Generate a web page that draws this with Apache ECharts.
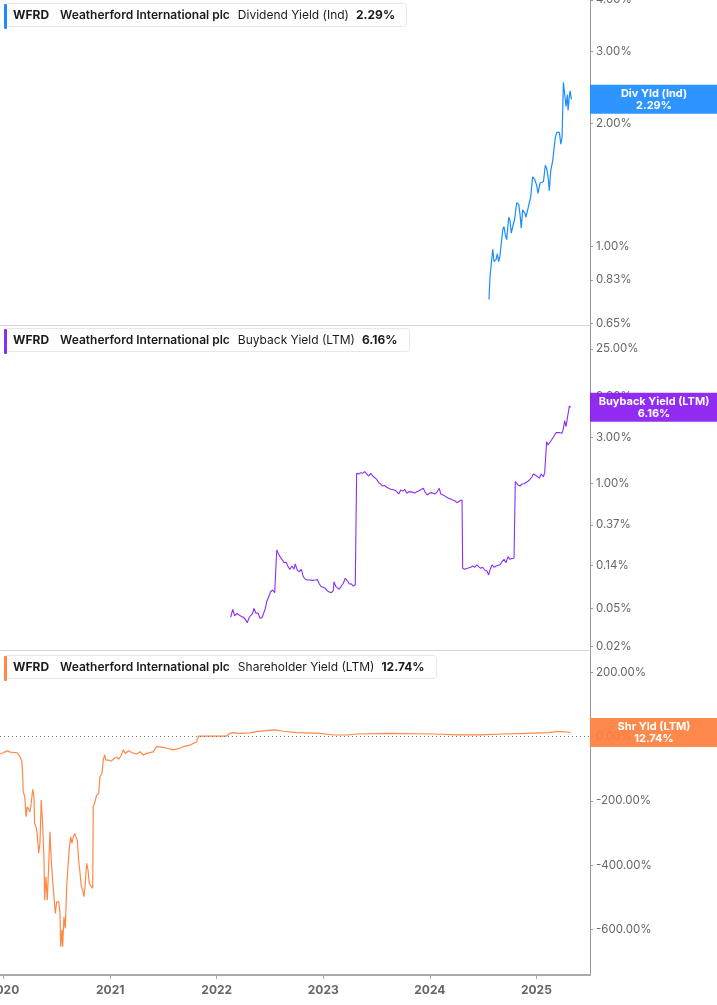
<!DOCTYPE html>
<html>
<head>
<meta charset="utf-8">
<title>WFRD yields</title>
<script src="https://cdn.jsdelivr.net/npm/echarts@6.0.0/dist/echarts.min.js"></script>
<style>
  html, body { margin: 0; padding: 0; background: #fff; }
  #chart { width: 717px; height: 1005px; }
</style>
</head>
<body>
<div id="chart"></div>
<script>
// x positions are decimal years
const yearTicks = [2020, 2021, 2022, 2023, 2024, 2025]

// Dividend Yield (Ind), %
const divYears = [
  2024.555, 2024.565, 2024.577, 2024.590, 2024.602, 2024.621, 2024.633, 2024.646, 2024.658, 2024.684,
  2024.696, 2024.708, 2024.721, 2024.740, 2024.752, 2024.764, 2024.777, 2024.796, 2024.815, 2024.834,
  2024.846, 2024.858, 2024.871, 2024.890, 2024.902, 2024.915, 2024.933, 2024.946, 2024.965, 2024.984,
  2025.003, 2025.015, 2025.034, 2025.047, 2025.066, 2025.084, 2025.097, 2025.110, 2025.121, 2025.134,
  2025.153, 2025.165, 2025.178, 2025.191, 2025.203, 2025.216, 2025.229, 2025.241, 2025.253, 2025.266,
  2025.278, 2025.291, 2025.297, 2025.309, 2025.316, 2025.329
]
const divValues = [
  0.743, 0.847, 0.855, 0.985, 0.92, 0.93, 0.96, 0.92, 0.95, 1.10,
  1.12, 1.07, 1.04, 1.18, 1.16, 1.08, 1.09, 1.17, 1.28, 1.27,
  1.20, 1.11, 1.23, 1.21, 1.18, 1.22, 1.28, 1.32, 1.48, 1.46,
  1.41, 1.35, 1.43, 1.42, 1.44, 1.58, 1.55, 1.48, 1.37, 1.53,
  1.62, 1.73, 1.85, 1.90, 1.88, 1.90, 1.78, 1.85, 2.52, 2.54,
  2.20, 2.35, 2.15, 2.32, 2.40, 2.29
]
const divTicks = [0.65, 0.83, 1.00, 2.00, 3.00, 4.00]

// Buyback Yield (LTM), %
const buyYears = [
  2022.131, 2022.150, 2022.168, 2022.187, 2022.206, 2022.225, 2022.249, 2022.268, 2022.287, 2022.305,
  2022.321, 2022.337, 2022.349, 2022.368, 2022.387, 2022.406, 2022.425, 2022.437, 2022.456, 2022.469,
  2022.488, 2022.506, 2022.525, 2022.544, 2022.556, 2022.563, 2022.575, 2022.594, 2022.612, 2022.631,
  2022.650, 2022.669, 2022.687, 2022.706, 2022.725, 2022.737, 2022.756, 2022.775, 2022.794, 2022.812,
  2022.831, 2022.850, 2022.875, 2022.900, 2022.925, 2022.944, 2022.962, 2022.981, 2023.000, 2023.019,
  2023.037, 2023.056, 2023.075, 2023.094, 2023.100, 2023.119, 2023.135, 2023.150, 2023.169, 2023.188,
  2023.206, 2023.225, 2023.244, 2023.263, 2023.281, 2023.300, 2023.313, 2023.332, 2023.351, 2023.370,
  2023.389, 2023.407, 2023.426, 2023.445, 2023.464, 2023.482, 2023.501, 2023.520, 2023.539, 2023.557,
  2023.576, 2023.595, 2023.614, 2023.633, 2023.651, 2023.670, 2023.689, 2023.708, 2023.726, 2023.745,
  2023.764, 2023.783, 2023.802, 2023.820, 2023.839, 2023.858, 2023.877, 2023.896, 2023.914, 2023.939,
  2023.958, 2023.976, 2023.995, 2024.014, 2024.032, 2024.051, 2024.070, 2024.089, 2024.102, 2024.120,
  2024.139, 2024.158, 2024.177, 2024.195, 2024.214, 2024.233, 2024.252, 2024.270, 2024.283, 2024.302,
  2024.308, 2024.327, 2024.346, 2024.364, 2024.383, 2024.402, 2024.421, 2024.440, 2024.458, 2024.477,
  2024.496, 2024.515, 2024.534, 2024.552, 2024.565, 2024.583, 2024.602, 2024.621, 2024.639, 2024.658,
  2024.677, 2024.696, 2024.715, 2024.733, 2024.752, 2024.771, 2024.790, 2024.802, 2024.815, 2024.827,
  2024.846, 2024.865, 2024.884, 2024.902, 2024.921, 2024.940, 2024.959, 2024.971, 2024.990, 2025.008,
  2025.027, 2025.046, 2025.065, 2025.078, 2025.090, 2025.096, 2025.109, 2025.127, 2025.146, 2025.165,
  2025.184, 2025.202, 2025.221, 2025.240, 2025.252, 2025.265, 2025.278, 2025.296, 2025.309, 2025.322
]
const buyValues = [
  0.0405, 0.049, 0.0418, 0.0445, 0.043, 0.0418, 0.0405, 0.0386, 0.0356, 0.0405,
  0.042, 0.0445, 0.050, 0.0445, 0.0448, 0.0395, 0.040, 0.0386, 0.050, 0.0588,
  0.0662, 0.0746, 0.0778, 0.0729, 0.0735, 0.203, 0.190, 0.1726, 0.162, 0.1496,
  0.151, 0.136, 0.1276, 0.138, 0.128, 0.145, 0.125, 0.1205, 0.1276, 0.107,
  0.1005, 0.0989, 0.0989, 0.098, 0.0989, 0.100, 0.0898, 0.0842, 0.083, 0.081,
  0.0765, 0.0741, 0.073, 0.0765, 0.0948, 0.0842, 0.086, 0.079, 0.0855, 0.0914,
  0.1029, 0.097, 0.0898, 0.090, 0.0855, 0.0875, 1.27, 1.25, 1.29, 1.27,
  1.32, 1.27, 1.19, 1.27, 1.19, 1.154, 1.10, 1.014, 0.983, 0.937,
  0.95, 0.909, 0.887, 0.866, 0.87, 0.852, 0.818, 0.774, 0.852, 0.83,
  0.866, 0.787, 0.82, 0.787, 0.81, 0.79, 0.818, 0.83, 0.799, 0.887,
  0.80, 0.756, 0.787, 0.80, 0.838, 0.774, 0.82, 0.887, 0.774, 0.756,
  0.74, 0.715, 0.70, 0.682, 0.67, 0.659, 0.629, 0.62, 0.659, 0.671,
  0.1306, 0.1276, 0.13, 0.1276, 0.134, 0.138, 0.134, 0.1418, 0.137, 0.1306,
  0.134, 0.1256, 0.1235, 0.1114, 0.1256, 0.1418, 0.134, 0.138, 0.136, 0.142,
  0.153, 0.162, 0.1496, 0.1726, 0.162, 0.165, 0.166, 1.04, 1.08, 0.96,
  0.937, 0.983, 0.99, 1.0, 1.05, 1.10, 1.17, 1.25, 1.22, 1.19,
  1.13, 1.25, 1.17, 1.29, 1.32, 2.71, 2.50, 2.60, 2.87, 3.10,
  3.36, 3.25, 3.36, 3.31, 3.64, 4.47, 3.88, 3.82, 6.36, 6.16
]
const buyTicks = [0.02, 0.05, 0.14, 0.37, 1.00, 3.00, 8.00, 25.00]

// Shareholder Yield (LTM), %
const shrYears = [
  2019.966, 2019.997, 2020.034, 2020.060, 2020.091, 2020.128, 2020.153, 2020.172, 2020.179, 2020.184,
  2020.198, 2020.203, 2020.210, 2020.222, 2020.235, 2020.247, 2020.259, 2020.273, 2020.285, 2020.291,
  2020.304, 2020.316, 2020.329, 2020.341, 2020.353, 2020.366, 2020.379, 2020.385, 2020.397, 2020.410,
  2020.423, 2020.435, 2020.447, 2020.460, 2020.473, 2020.485, 2020.498, 2020.517, 2020.529, 2020.535,
  2020.548, 2020.554, 2020.566, 2020.579, 2020.592, 2020.604, 2020.616, 2020.629, 2020.641, 2020.654,
  2020.667, 2020.679, 2020.691, 2020.704, 2020.716, 2020.729, 2020.741, 2020.754, 2020.766, 2020.779,
  2020.792, 2020.804, 2020.817, 2020.836, 2020.841, 2020.854, 2020.873, 2020.892, 2020.904, 2020.923,
  2020.935, 2020.948, 2020.960, 2020.986, 2021.010, 2021.042, 2021.061, 2021.080, 2021.104, 2021.123,
  2021.142, 2021.174, 2021.205, 2021.249, 2021.280, 2021.311, 2021.342, 2021.404, 2021.436, 2021.498,
  2021.530, 2021.592, 2021.655, 2021.686, 2021.749, 2021.812, 2021.831, 2021.874, 2022.093, 2022.124,
  2022.155, 2022.218, 2022.312, 2022.368, 2022.540, 2022.626, 2022.755, 2022.969, 2023.098, 2023.227,
  2023.313, 2023.614, 2024.042, 2024.254, 2024.470, 2024.686, 2024.900, 2025.115, 2025.201, 2025.287,
  2025.321
]
const shrValues = [
  -54, -50, -44, -48, -49, -50, -62, -78, -125, -171,
  -187, -207, -249, -218, -223, -234, -207, -164, -187, -270,
  -280, -306, -363, -332, -197, -270, -384, -509, -436, -509,
  -514, -296, -384, -446, -446, -550, -514, -514, -550, -654,
  -602, -654, -561, -597, -467, -405, -348, -312, -332, -312,
  -301, -312, -322, -384, -421, -467, -477, -498, -457, -394,
  -415, -457, -452, -472, -218, -207, -182, -176, -125, -114,
  -73, -57, -73, -73, -76, -67, -64, -70, -57, -41,
  -52, -44, -50, -54, -47, -57, -52, -47, -31, -33,
  -36, -41, -36, -31, -26, -16, 2, 2, 2, 10.6,
  12.5, 10.6, 12, 15.6, 21, 17, 12.5, 10.6, 5.3, 5.3,
  8.4, 10.6, 8.4, 6, 6, 8.4, 10.6, 12.5, 16.8, 14.6,
  12.74
]
const shrTicks = [-600, -400, -200, 0, 200]

const panels = [
  { metric: 'Dividend Yield (Ind)', tag: ['Div Yld (Ind)', '2.29%'], color: '#1a8cff', box: '#1e8cff' },
  { metric: 'Buyback Yield (LTM)', tag: ['Buyback Yield (LTM)', '6.16%'], color: '#8b2ef5', box: '#8a1cf2' },
  { metric: 'Shareholder Yield (LTM)', tag: ['Shr Yld (LTM)', '12.74%'], color: '#ff8848', box: '#ff7f3f' }
]

const FONT = 'Inter, "Noto Sans", sans-serif'
const GRID_RIGHT = 127
const PANEL_H = 325
const lg = (v) => Math.log10(v)

const pairs = (xs, ys, f) => xs.map((x, i) => [x, f ? f(ys[i]) : ys[i]])

function xAxisFor(i) {
  const last = i === 2
  return {
    gridIndex: i,
    type: 'value',
    min: 2019.966,
    max: 2025.503,
    axisLine: { show: true, onZero: false, lineStyle: { color: last ? '#aaaaaa' : '#d6d6d6', width: last ? 2 : 1 } },
    axisTick: {
      show: last,
      customValues: yearTicks,
      length: 4,
      lineStyle: { color: '#aaaaaa' }
    },
    axisLabel: {
      show: last,
      customValues: yearTicks,
      formatter: (v) => String(v),
      color: '#666',
      fontWeight: 'bold',
      fontSize: 12,
      fontFamily: FONT,
      margin: 9
    },
    splitLine: { show: false }
  }
}

function yAxisFor(i, min, max, ticks, fmt) {
  return {
    gridIndex: i,
    type: 'value',
    position: 'right',
    min: min,
    max: max,
    axisLine: { show: true, onZero: false, lineStyle: { color: '#999' } },
    axisTick: { show: true, customValues: ticks, length: 3, lineStyle: { color: '#999' } },
    axisLabel: {
      customValues: ticks,
      formatter: fmt,
      color: '#666',
      fontSize: 11.5,
      fontFamily: FONT,
      margin: 6
    },
    splitLine: { show: false }
  }
}

const pctLog = (v) => Math.pow(10, v).toFixed(2) + '%'
const pctLin = (v) => v.toFixed(2) + '%'

const titles = panels.map((p, i) => ({
  left: 4,
  top: i * PANEL_H + (i === 2 ? 5 : 3),
  padding: [6, 12, 6, 9],
  backgroundColor: '#fff',
  borderColor: '#e8e8e8',
  borderWidth: 1,
  borderRadius: 3,
  text: '{a|WFRD}{b|Weatherford International plc}{c|' + p.metric + '}{d|' + p.tag[1] + '}',
  textStyle: {
    fontFamily: FONT,
    fontSize: 12,
    color: '#1b1b1b',
    rich: {
      a: { fontFamily: FONT, fontSize: 12, fontWeight: 'bold', color: '#1b1b1b', padding: [0, 11, 0, 0] },
      b: { fontFamily: FONT, fontSize: 12, fontWeight: 600, color: '#1b1b1b', padding: [0, 8, 0, 0] },
      c: { fontFamily: FONT, fontSize: 12, fontWeight: 'normal', color: '#1b1b1b', padding: [0, 7, 0, 0] },
      d: { fontFamily: FONT, fontSize: 12, fontWeight: 'bold', color: '#1b1b1b' }
    }
  }
}))

const chart = echarts.init(document.getElementById('chart'), null, { renderer: 'canvas' })

chart.setOption({
  animation: false,
  backgroundColor: '#fff',
  title: titles,
  grid: [0, 1, 2].map((i) => ({
    left: 0,
    right: GRID_RIGHT,
    top: i * PANEL_H,
    height: PANEL_H,
    containLabel: false,
    outerBoundsMode: 'none'
  })),
  xAxis: [0, 1, 2].map(xAxisFor),
  yAxis: [
    yAxisFor(0, lg(0.644), lg(4.0), divTicks.map(lg), pctLog),
    yAxisFor(1, -1.733, 1.6455, buyTicks.map(lg), pctLog),
    yAxisFor(2, -742, 270, shrTicks, pctLin)
  ],
  series: [
    {
      name: panels[0].metric,
      type: 'line',
      xAxisIndex: 0,
      yAxisIndex: 0,
      showSymbol: false,
      data: pairs(divYears, divValues, lg),
      lineStyle: { color: panels[0].color, width: 1.2 },
      itemStyle: { color: panels[0].color }
    },
    {
      name: panels[1].metric,
      type: 'line',
      xAxisIndex: 1,
      yAxisIndex: 1,
      showSymbol: false,
      data: pairs(buyYears, buyValues, lg),
      lineStyle: { color: panels[1].color, width: 1.1 },
      itemStyle: { color: panels[1].color }
    },
    {
      name: panels[2].metric,
      type: 'line',
      xAxisIndex: 2,
      yAxisIndex: 2,
      showSymbol: false,
      data: pairs(shrYears, shrValues),
      lineStyle: { color: panels[2].color, width: 1.2 },
      itemStyle: { color: panels[2].color },
      markLine: {
        silent: true,
        symbol: 'none',
        label: { show: false },
        lineStyle: { color: '#777', type: [1, 3], width: 1 },
        data: [{ yAxis: 0 }]
      }
    }
  ]
})

// last-value tags on the right axis, placed through the axis scale
const lastVals = [lg(divValues[divValues.length - 1]), lg(buyValues[buyValues.length - 1]), shrValues[shrValues.length - 1]]
const graphics = []
panels.forEach((p, i) => {
  const py = chart.convertToPixel({ yAxisIndex: i }, lastVals[i])
  graphics.push({
    type: 'rect',
    left: 590,
    top: py - 14.5,
    shape: { width: 127, height: 29 },
    style: { fill: p.box, opacity: 0.93 },
    z: 100
  })
  graphics.push({
    type: 'text',
    x: 654,
    y: py,
    style: {
      text: p.tag[0] + '\n' + p.tag[1],
      fill: '#fff',
      font: 'bold 11px ' + FONT,
      align: 'center',
      verticalAlign: 'middle',
      lineHeight: 12
    },
    z: 101
  })
  // colour bar on the legend box
  graphics.push({
    type: 'rect',
    left: 4,
    top: i * PANEL_H + (i === 2 ? 6 : 4),
    shape: { width: 3, height: 25, r: 1 },
    style: { fill: p.color },
    z: 101
  })
})
chart.setOption({ graphic: graphics })
</script>
</body>
</html>
